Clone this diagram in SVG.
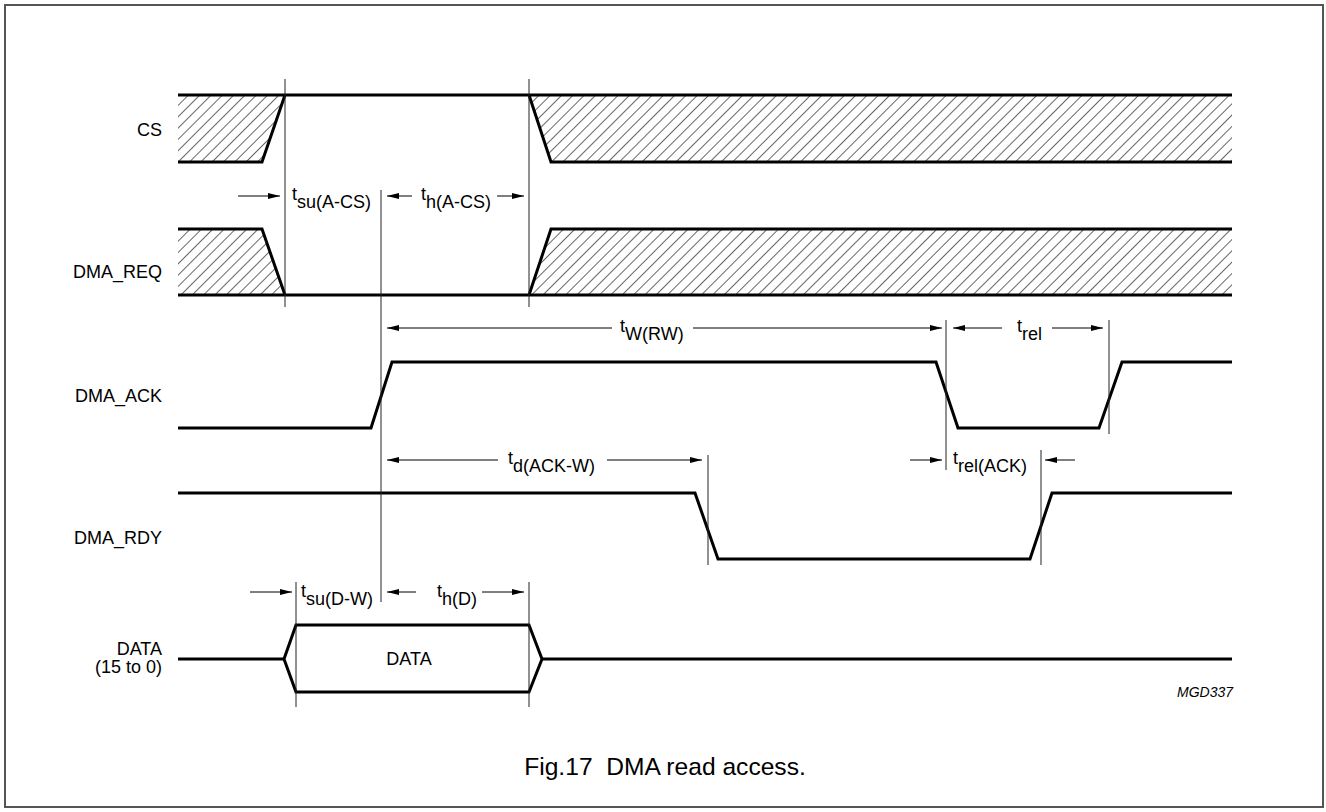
<svg xmlns="http://www.w3.org/2000/svg" width="1326" height="812" viewBox="0 0 1326 812">
<style>
.sig{fill:none;stroke:#000;stroke-width:3;stroke-linejoin:miter}
.hatch{fill:url(#hatch);stroke:none}
.vl{stroke:#222;stroke-width:1}
.arr{stroke:#000;stroke-width:1;marker-end:url(#ah)}
.lbl{font-family:"Liberation Sans",Arial,sans-serif;font-size:18px;fill:#000}
.r{text-anchor:end}
</style>
<defs>
<pattern id="hatch" patternUnits="userSpaceOnUse" width="8" height="8" patternTransform="rotate(45)">
<line x1="0" y1="0" x2="0" y2="8" stroke="#000" stroke-width="1.2"/>
</pattern>
<marker id="ah" markerUnits="userSpaceOnUse" markerWidth="12" markerHeight="6" refX="12" refY="3" orient="auto">
<path d="M0,0 L12,3 L0,6 z" fill="#000"/>
</marker>
</defs>
<rect x="0" y="0" width="1326" height="812" fill="#fff"/>
<rect x="5" y="5" width="1318" height="802" fill="none" stroke="#555" stroke-width="2"/>

<g id="cs">
<polygon class="hatch" points="178,95 285,95 262,162 178,162"/>
<polygon class="hatch" points="529,95 1232,95 1232,162 551,162"/>
<path class="sig" d="M178,95 H1232 M178,162 H262 L285,95 M529,95 L551,162 H1232"/>
<text class="lbl r" x="162" y="136">CS</text>
</g>

<g id="dma_req">
<polygon class="hatch" points="178,229 262,229 285,295 178,295"/>
<polygon class="hatch" points="551,229 1232,229 1232,295 529,295"/>
<path class="sig" d="M178,229 H262 L285,295 M178,295 H1232 M529,295 L551,229 H1232"/>
<text class="lbl r" x="162" y="278">DMA_REQ</text>
</g>

<g id="dma_ack">
<path class="sig" d="M178,428 H371 L392,362 H936 L958,428 H1099 L1122,362 H1232"/>
<text class="lbl r" x="162" y="402">DMA_ACK</text>
</g>

<g id="dma_rdy">
<path class="sig" d="M178,493 H695 L718,559 H1030 L1052,493 H1232"/>
<text class="lbl r" x="162" y="544">DMA_RDY</text>
</g>

<g id="data">
<path class="sig" d="M178,659 H284 M542,659 H1232"/>
<polygon class="sig" points="284,659 296,625 529,625 542,659 529,692 296,692"/>
<text class="lbl" x="409" y="665" text-anchor="middle">DATA</text>
<text class="lbl r" x="162" y="655">DATA</text>
<text class="lbl r" x="162" y="673">(15 to 0)</text>
</g>

<g id="connectors">
<line class="vl" x1="285" y1="79" x2="285" y2="307"/>
<line class="vl" x1="529" y1="79" x2="529" y2="307"/>
<line class="vl" x1="381" y1="190" x2="381" y2="602"/>
<line class="vl" x1="946" y1="320" x2="946" y2="470"/>
<line class="vl" x1="1109" y1="320" x2="1109" y2="434"/>
<line class="vl" x1="708" y1="455" x2="708" y2="565"/>
<line class="vl" x1="1041" y1="450" x2="1041" y2="565"/>
<line class="vl" x1="296" y1="582" x2="296" y2="707"/>
<line class="vl" x1="529" y1="582" x2="529" y2="707"/>

<line class="arr" x1="238" y1="196" x2="280" y2="196"/>
<line class="arr" x1="412" y1="196" x2="387" y2="196"/>
<line class="arr" x1="497" y1="196" x2="524" y2="196"/>

<line class="arr" x1="612" y1="328" x2="387" y2="328"/>
<line class="arr" x1="693" y1="328" x2="942" y2="328"/>
<line class="arr" x1="1002" y1="328" x2="953" y2="328"/>
<line class="arr" x1="1052" y1="328" x2="1103" y2="328"/>

<line class="arr" x1="498" y1="460" x2="387" y2="460"/>
<line class="arr" x1="607" y1="460" x2="702" y2="460"/>
<line class="arr" x1="910" y1="460" x2="942" y2="460"/>
<line class="arr" x1="1075" y1="460" x2="1045" y2="460"/>

<line class="arr" x1="250" y1="592" x2="292" y2="592"/>
<line class="arr" x1="416" y1="592" x2="387" y2="592"/>
<line class="arr" x1="482" y1="592" x2="524" y2="592"/>
</g>

<g id="timing-labels" class="lbl">
<text x="292" y="200">t<tspan dy="8">su(A-CS)</tspan></text>
<text x="421" y="200">t<tspan dy="8">h(A-CS)</tspan></text>
<text x="620" y="332">t<tspan dy="8">W(RW)</tspan></text>
<text x="1017" y="332">t<tspan dy="8">rel</tspan></text>
<text x="508" y="464">t<tspan dy="8">d(ACK-W)</tspan></text>
<text x="953" y="464">t<tspan dy="8">rel(ACK)</tspan></text>
<text x="301" y="597">t<tspan dy="8">su(D-W)</tspan></text>
<text x="437" y="597">t<tspan dy="8">h(D)</tspan></text>
</g>

<text x="1233" y="697" text-anchor="end" font-family="Liberation Sans, Arial, sans-serif" font-size="14" font-style="italic">MGD337</text>
<text x="665" y="775" text-anchor="middle" font-family="Liberation Sans, Arial, sans-serif" font-size="24.6" xml:space="preserve">Fig.17  DMA read access.</text>
</svg>
